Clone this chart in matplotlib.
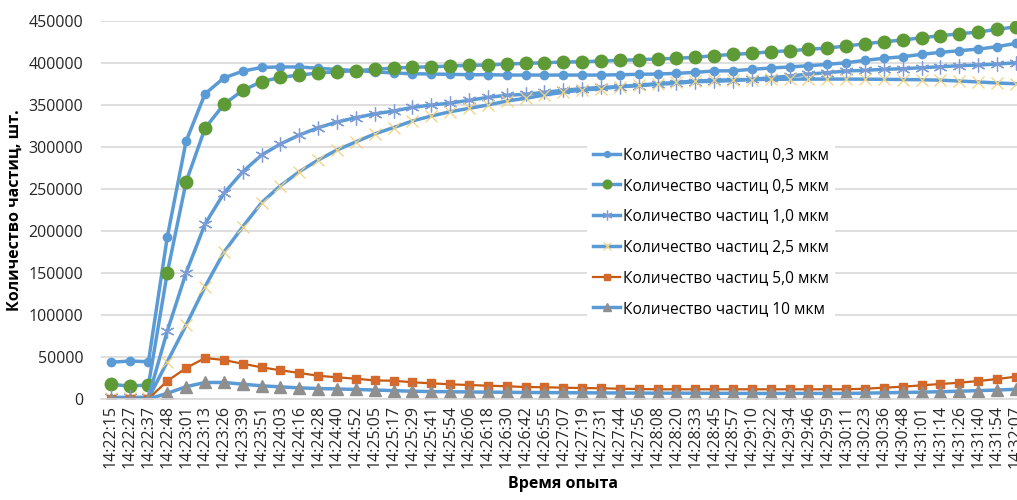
import matplotlib.pyplot as plt

plt.rcParams['font.family'] = ['Open Sans', 'DejaVu Sans']

times = [
    '14:22:15', '14:22:27', '14:22:37', '14:22:48', '14:23:01', '14:23:13', '14:23:26',
    '14:23:39', '14:23:51', '14:24:03', '14:24:16', '14:24:28', '14:24:40', '14:24:52',
    '14:25:05', '14:25:17', '14:25:29', '14:25:41', '14:25:54', '14:26:06', '14:26:18',
    '14:26:30', '14:26:42', '14:26:55', '14:27:07', '14:27:19', '14:27:31', '14:27:44',
    '14:27:56', '14:28:08', '14:28:20', '14:28:33', '14:28:45', '14:28:57', '14:29:10',
    '14:29:22', '14:29:34', '14:29:46', '14:29:59', '14:30:11', '14:30:23', '14:30:36',
    '14:30:48', '14:31:01', '14:31:14', '14:31:26', '14:31:40', '14:31:54', '14:32:07',
]

# particle counts per size channel
p03 = [44000, 45500, 44700, 193000, 307000, 363000, 382000, 390000, 394500, 395000,
       395000, 393500, 392000, 390800, 389300, 387800, 387000, 386600, 386300, 385800,
       385800, 385400, 385400, 385400, 385400, 385400, 385400, 385800, 386300, 386600,
       387400, 388600, 390300, 390500, 392200, 393700, 395000, 396500, 398100, 400000,
       402900, 405300, 407200, 410000, 412400, 414300, 416300, 419100, 423100]
p05 = [17800, 15800, 17000, 150500, 258600, 322100, 350600, 367200, 377500, 382700,
       385400, 387800, 389400, 390600, 392200, 393700, 394600, 395300, 396100, 397000,
       397300, 398500, 399300, 400000, 400900, 401200, 402100, 402900, 403600, 404500,
       405300, 406500, 408400, 410000, 411200, 413100, 414300, 416000, 417500, 419900,
       422600, 425000, 427000, 429800, 432100, 434500, 436500, 439700, 442800]
p10 = [2400, 2300, 2400, 81200, 150500, 208300, 244800, 270500, 290300, 303400,
       314100, 322800, 329600, 334700, 339300, 342600, 347000, 349700, 352100, 355300,
       358900, 361300, 362500, 364900, 367300, 369200, 370800, 371500, 372700, 374400,
       375600, 377500, 378000, 378800, 380200, 382300, 384200, 386600, 388200, 390200,
       391000, 392200, 392900, 394100, 395300, 396500, 397300, 398500, 400000]
p25 = [1200, 1100, 1200, 44700, 88300, 133800, 174700, 205100, 233700, 253900,
       270500, 284400, 296300, 306000, 315500, 323000, 330800, 336700, 341800, 345800,
       349800, 354500, 357700, 361700, 364900, 367600, 369200, 371500, 373500, 375100,
       376700, 378300, 379300, 379800, 380100, 380300, 380500, 380600, 380600, 380600,
       380500, 380300, 380100, 379800, 379300, 378300, 377200, 376000, 375000]
p50 = [800, 700, 800, 21700, 37200, 49100, 46700, 42300, 38000, 34500,
       31300, 28000, 26100, 24500, 22400, 22100, 20200, 19000, 17800, 17000,
       16200, 15500, 14600, 14300, 13800, 13400, 13100, 12600, 12200, 11900,
       11900, 11900, 11900, 11900, 11900, 11900, 11900, 11900, 11900, 11900,
       12600, 13800, 15000, 16600, 18200, 19700, 21700, 24100, 26900]
p100 = [300, 300, 300, 7100, 15000, 20000, 20000, 18000, 16000, 14800,
        13600, 12800, 12300, 11700, 11000, 10300, 9600, 9200, 9000, 8700,
        8500, 8300, 8100, 8000, 7800, 7700, 7600, 7500, 7400, 7300,
        7300, 7200, 7200, 7100, 7000, 7000, 7000, 7000, 7000, 7000,
        7300, 7700, 8100, 8500, 9000, 9600, 10300, 11000, 11900]

labels = ['Количество частиц 0,3 мкм', 'Количество частиц 0,5 мкм',
          'Количество частиц 1,0 мкм', 'Количество частиц 2,5 мкм',
          'Количество частиц 5,0 мкм', 'Количество частиц 10 мкм']

blue = '#5B9BD5'
fig = plt.figure(figsize=(10.17, 5.0), dpi=100)
# the plot area runs a bit past the right edge of the figure
ax = fig.add_axes([101.3 / 1017, 100.7 / 500, 924 / 1017, 378.6 / 500])

x = range(len(times))
ax.plot(x, p03, color=blue, lw=2.5, marker='o', ms=6, mfc=blue, mec=blue, label=labels[0])
ax.plot(x, p05, color=blue, lw=2.5, marker='o', ms=9, mfc='#5E9B36', mec='#5E9B36', label=labels[1])
ax.plot(x, p10, color=blue, lw=2.5, marker=(6, 2, 0), ms=10, mec='#7F9BD6', mew=0.9, label=labels[2])
ax.plot(x, p25, color=blue, lw=2.5, marker='x', ms=8, mec='#F3D27E', mew=0.9, label=labels[3])
ax.plot(x, p50, color='#C55A11', lw=1.6, marker='s', ms=5.5, mfc='#D4692B', mec='#D4692B', label=labels[4])
ax.plot(x, p100, color=blue, lw=2.5, marker='^', ms=8, mfc='#8F8F8F', mec='#8F8F8F', label=labels[5])

ax.set_xlim(-0.5, len(times) - 0.5)
ax.set_ylim(0, 450000)
ax.set_yticks(range(0, 450001, 50000))
ax.set_xticks(list(x))
ax.set_xticklabels(times, rotation=90)
ax.tick_params(axis='both', length=0, labelsize=11.5, colors='#262626')
ax.tick_params(axis='y', pad=13)
ax.tick_params(axis='x', pad=4)
ax.grid(axis='y', color='#D9D9D9', lw=1.2)
ax.set_axisbelow(True)
for side in ['top', 'right', 'left']:
    ax.spines[side].set_visible(False)
ax.spines['bottom'].set_color('#D9D9D9')
ax.spines['bottom'].set_linewidth(1.2)

ax.set_xlabel('Время опыта', fontsize=11.5, fontweight='bold', labelpad=6)
ax.set_ylabel('Количество частиц, шт.', fontsize=11.5, fontweight='bold', labelpad=4)

leg = ax.legend(loc='upper left', bbox_to_anchor=(579 / 1017, 1 - 133 / 500),
                bbox_transform=fig.transFigure, frameon=True, fancybox=False,
                facecolor='white', edgecolor='none', framealpha=1,
                fontsize=11.2, handlelength=1.75, handletextpad=0.15,
                labelspacing=0.95, borderpad=0.4, markerscale=0.7)

fig.savefig('out.png', dpi=100)
plt.close(fig)
